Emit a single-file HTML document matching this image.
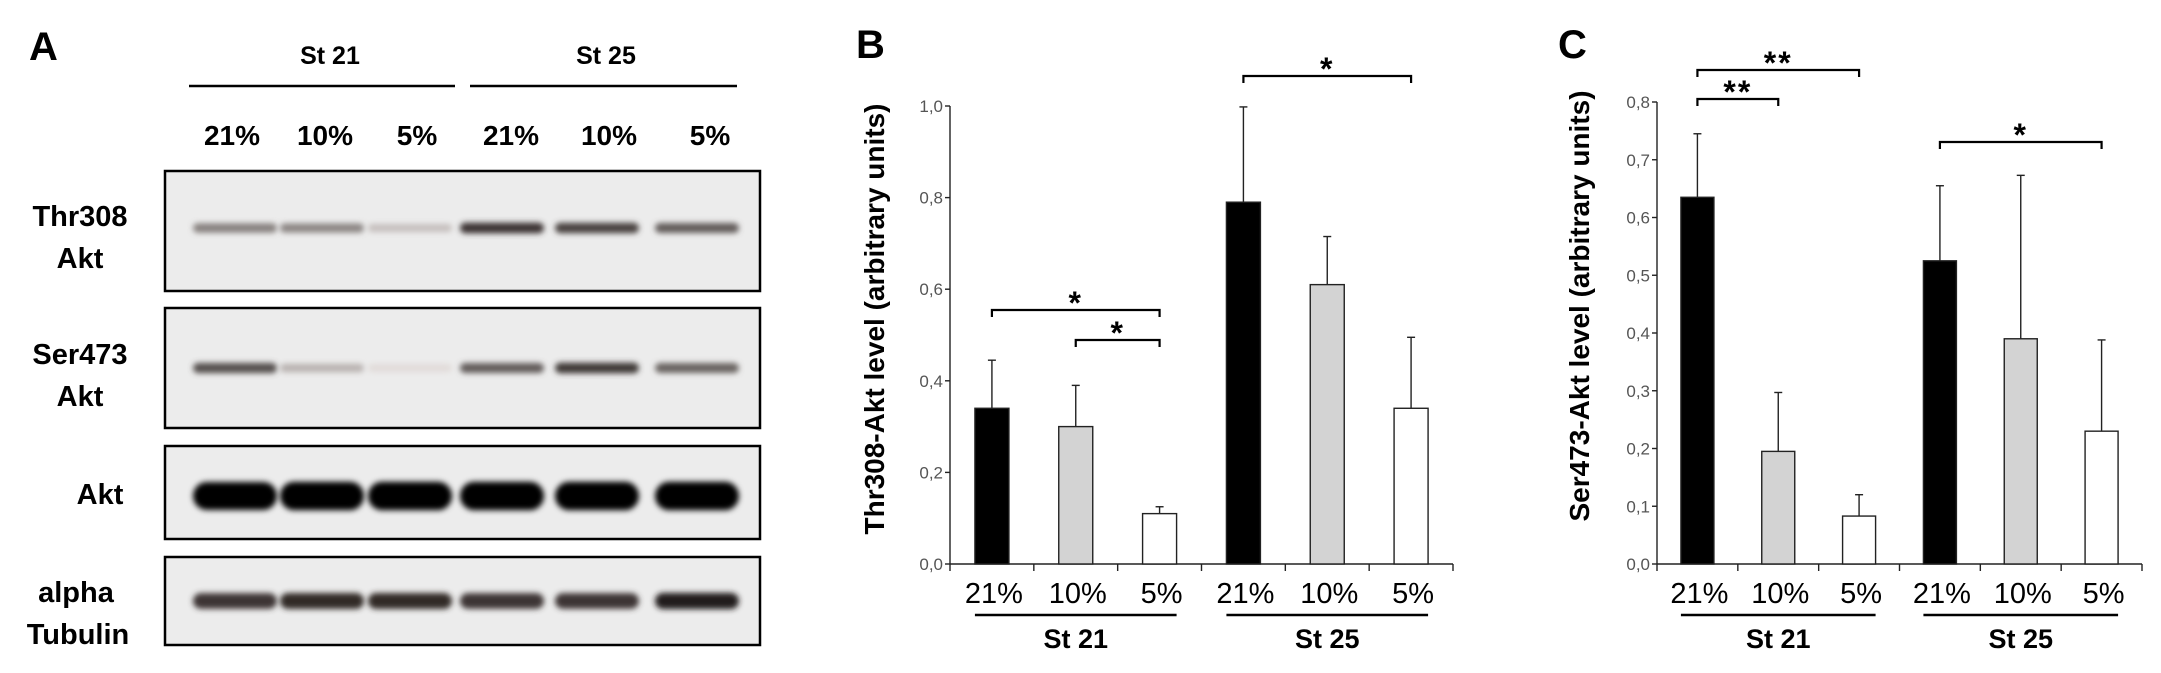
<!DOCTYPE html>
<html><head><meta charset="utf-8"><style>
html,body{margin:0;padding:0;background:#fff;overflow:hidden;}
svg{display:block;font-family:"Liberation Sans",Arial,sans-serif;}
</style></head><body>
<svg id="fig" width="2161" height="673" viewBox="0 0 2161 673" xmlns="http://www.w3.org/2000/svg">
<defs>
<filter id="blur2" x="-30%" y="-150%" width="160%" height="400%"><feGaussianBlur stdDeviation="3"/></filter>
</defs>
<g>
<text x="29" y="60" font-size="40" font-weight="bold">A</text>
<text x="330" y="64" font-size="25" font-weight="bold" text-anchor="middle">St 21</text>
<text x="606" y="64" font-size="25" font-weight="bold" text-anchor="middle">St 25</text>
<line x1="189" y1="86" x2="455" y2="86" stroke="#000" stroke-width="2.5"/>
<line x1="470" y1="86" x2="737" y2="86" stroke="#000" stroke-width="2.5"/>
<g font-size="28" font-weight="bold" text-anchor="middle">
<text x="232" y="145">21%</text><text x="325" y="145">10%</text><text x="417" y="145">5%</text>
<text x="511" y="145">21%</text><text x="609" y="145">10%</text><text x="710" y="145">5%</text>
</g>
<g font-size="29" font-weight="bold" text-anchor="middle">
<text x="80" y="226">Thr308</text><text x="80" y="268">Akt</text>
<text x="80" y="364">Ser473</text><text x="80" y="406">Akt</text>
<text x="100" y="504">Akt</text>
<text x="76" y="602">alpha</text><text x="78" y="644">Tubulin</text>
</g>
<g id="blots"></g>
</g>
<g id="chartB"></g>
<g id="chartC"></g>
</svg>
<script>
// Blot data (band intensities 0-1 per lane)
const laneX = [235, 322, 410, 502, 597, 697];
const thrBands = [0.4, 0.38, 0.15, 0.7, 0.65, 0.55];
const serBands = [0.6, 0.2, 0.04, 0.55, 0.68, 0.52];
const aktBands = [0.95, 1, 1, 1, 1, 1];
const tubBands = [0.7, 0.75, 0.75, 0.7, 0.7, 0.8];

// Chart data
const categories = ["21%", "10%", "5%", "21%", "10%", "5%"];
const groups = ["St 21", "St 25"];
const bValues = [0.34, 0.30, 0.11, 0.79, 0.61, 0.34];
const bErrors = [0.445, 0.39, 0.125, 0.998, 0.715, 0.495];
const bTicks = ["0,0", "0,2", "0,4", "0,6", "0,8", "1,0"];
const bTickVals = [0, 0.2, 0.4, 0.6, 0.8, 1.0];
const cValues = [0.635, 0.195, 0.083, 0.525, 0.39, 0.23];
const cErrors = [0.745, 0.297, 0.12, 0.655, 0.673, 0.388];
const cTicks = ["0,0", "0,1", "0,2", "0,3", "0,4", "0,5", "0,6", "0,7", "0,8"];
const cTickVals = [0, 0.1, 0.2, 0.3, 0.4, 0.5, 0.6, 0.7, 0.8];
const fills = ["#000000", "#d3d3d3", "#ffffff", "#000000", "#d3d3d3", "#ffffff"];

const NS = "http://www.w3.org/2000/svg";
function mk(parent, tag, attrs, text) {
  const e = document.createElementNS(NS, tag);
  for (const k in attrs) e.setAttribute(k, attrs[k]);
  if (text !== undefined) e.textContent = text;
  parent.appendChild(e);
  return e;
}

const blots = document.getElementById('blots');
const rows = [
  {y0: 171, y1: 291, band: 228, h: 11, data: thrBands, name: 'thr308-blot'},
  {y0: 308, y1: 428, band: 368, h: 11, data: serBands, name: 'ser473-blot'},
  {y0: 446, y1: 539, band: 496, h: 26, data: aktBands, name: 'akt-blot'},
  {y0: 557, y1: 645, band: 601, h: 16, data: tubBands, name: 'tubulin-blot'}
];
rows.forEach(r => {
  const g = mk(blots, 'g', {});
  
  
  const rect = mk(g, 'rect', {x: 165, y: r.y0, width: 595, height: r.y1 - r.y0, fill: '#ececec', stroke: '#000', 'stroke-width': 2.5});
  
  
  r.data.forEach((v, i) => {
    const s = Math.max(0, Math.round(235 - v * 250));
    const hh = r.h * (0.7 + 0.4 * v);
    const el = mk(g, 'rect', {x: laneX[i] - 42, y: r.band - hh / 2, width: 84, height: hh, rx: hh / 2,
      fill: `rgb(${s},${Math.max(0, s - 6)},${Math.max(0, s - 8)})`, filter: 'url(#blur2)'});
    
    
  });
});

function drawChart(id, cfg) {
  const g = document.getElementById(id);
  const y = v => cfg.y0 - (v / cfg.ymax) * (cfg.y0 - cfg.yTop);
  const slotW = (cfg.xEnd - cfg.x0) / cfg.values.length;
  const xc = i => cfg.x0 + slotW * (i + 0.5);
  mk(g, 'text', {x: cfg.letterX, y: 58, 'font-size': 40, 'font-weight': 'bold'}, cfg.letter);
  const yt = mk(g, 'text', {x: 0, y: 0, 'font-size': 28, 'font-weight': 'bold', 'text-anchor': 'middle',
    transform: `translate(${cfg.titleX},${cfg.titleY}) rotate(-90)`}, cfg.title);
  
  
  const ax = mk(g, 'line', {x1: cfg.x0, y1: cfg.yTop, x2: cfg.x0, y2: cfg.y0, stroke: '#222', 'stroke-width': 1.4});
  
  
  const xax = mk(g, 'line', {x1: cfg.x0, y1: cfg.y0, x2: cfg.xEnd, y2: cfg.y0, stroke: '#222', 'stroke-width': 1.4});
  
  
  cfg.tickVals.forEach((v, i) => {
    mk(g, 'line', {x1: cfg.x0 - 5, y1: y(v), x2: cfg.x0, y2: y(v), stroke: '#222', 'stroke-width': 1.4});
    const t = mk(g, 'text', {x: cfg.x0 - 7, y: y(v) + 6, 'font-size': 17, fill: '#555', 'text-anchor': 'end'}, cfg.ticks[i]);
    
    
  });
  for (let i = 0; i <= cfg.values.length; i++) {
    const x = cfg.x0 + slotW * i;
    mk(g, 'line', {x1: x, y1: cfg.y0, x2: x, y2: cfg.y0 + 7, stroke: '#222', 'stroke-width': 1.4});
  }
  cfg.values.forEach((v, i) => {
    const cx = xc(i);
    const e = mk(g, 'line', {x1: cx, y1: y(v), x2: cx, y2: y(cfg.errors[i]), stroke: '#222', 'stroke-width': 1.4});
    
    
    mk(g, 'line', {x1: cx - 4, y1: y(cfg.errors[i]), x2: cx + 4, y2: y(cfg.errors[i]), stroke: '#222', 'stroke-width': 1.4});
    const b = mk(g, 'rect', {x: cx - cfg.barW / 2, y: y(v), width: cfg.barW, height: cfg.y0 - y(v), fill: fills[i], stroke: '#222', 'stroke-width': 1.4});
    
    
    const l = mk(g, 'text', {x: cx + 2, y: cfg.catY, 'font-size': 29, 'text-anchor': 'middle'}, categories[i]);
    
    
  });
  groups.forEach((gname, k) => {
    const a = xc(k * 3) - cfg.barW / 2, bx = xc(k * 3 + 2) + cfg.barW / 2;
    mk(g, 'line', {x1: a, y1: cfg.catY + 12, x2: bx, y2: cfg.catY + 12, stroke: '#000', 'stroke-width': 2.5});
    const t = mk(g, 'text', {x: (a + bx) / 2, y: cfg.catY + 45, 'font-size': 27, 'font-weight': 'bold', 'text-anchor': 'middle'}, gname);
    
    
  });
  cfg.sig.forEach(s => {
    const x1 = xc(s[0]), x2 = xc(s[1]);
    const p = mk(g, 'path', {d: `M${x1},${s[2] + 7}V${s[2]}H${x2}V${s[2] + 7}`, fill: 'none', stroke: '#000', 'stroke-width': 2.2});
    
    
    mk(g, 'text', {x: (x1 + x2) / 2, y: s[2] + 4, 'font-size': 32, 'font-weight': 'bold', 'text-anchor': 'middle', 'letter-spacing': 2}, s[3]);
  });
}

drawChart('chartB', {x0: 950, xEnd: 1453, y0: 564, yTop: 106, ymax: 1.0, barW: 34,
  values: bValues, errors: bErrors, ticks: bTicks, tickVals: bTickVals,
  catY: 603, letter: 'B', letterX: 856, title: 'Thr308-Akt level (arbitrary units)', titleX: 884, titleY: 319,
  sig: [[0, 2, 310, '*'], [1, 2, 340, '*'], [3, 5, 76, '*']]});
drawChart('chartC', {x0: 1657, xEnd: 2142, y0: 564, yTop: 102, ymax: 0.8, barW: 33,
  values: cValues, errors: cErrors, ticks: cTicks, tickVals: cTickVals,
  catY: 603, letter: 'C', letterX: 1558, title: 'Ser473-Akt level (arbitrary units)', titleX: 1589, titleY: 306,
  sig: [[0, 2, 70, '**'], [0, 1, 99, '**'], [3, 5, 142, '*']]});
</script>
</body></html>
